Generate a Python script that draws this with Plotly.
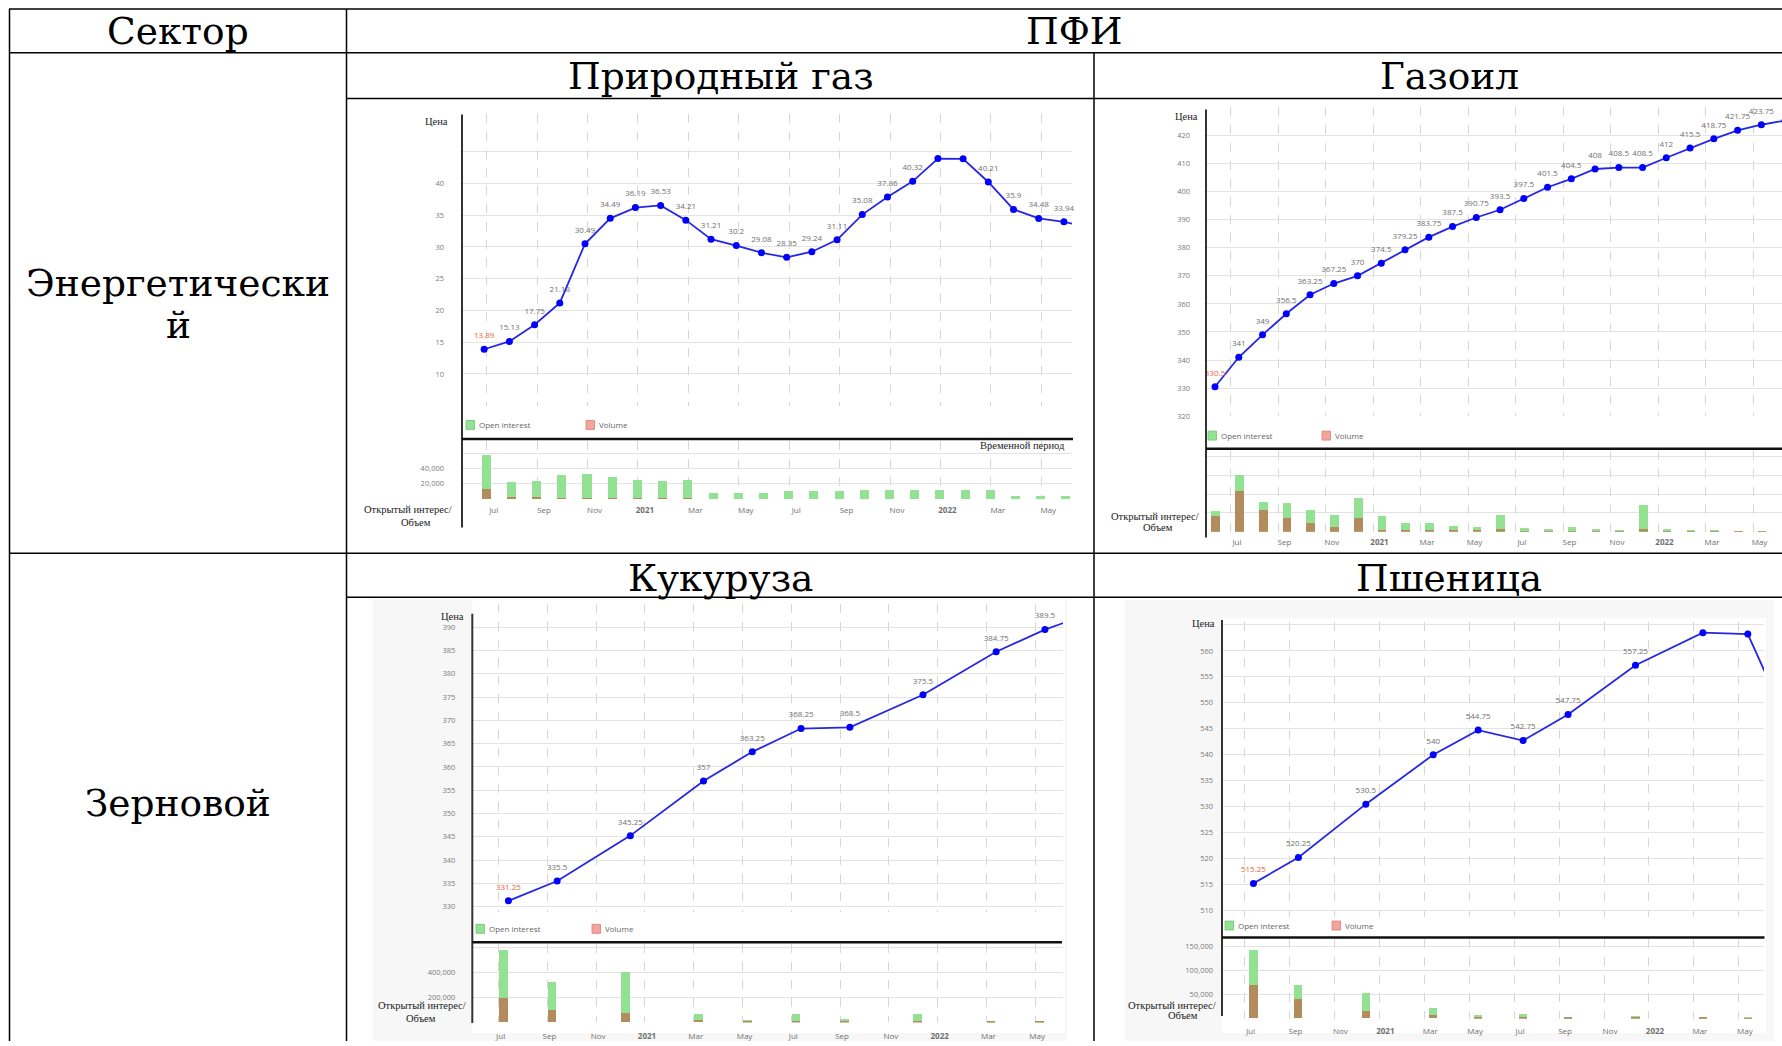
import plotly.graph_objects as go

W, H = 1782, 1046

# ---------------------------------------------------------------- data
# month index counted from July 2020
axis_months = [0, 2, 4, 6, 8, 10, 12, 14, 16, 18, 20, 22]
axis_labels = ["Jul", "Sep", "Nov", "<b>2021</b>", "Mar", "May",
               "Jul", "Sep", "Nov", "<b>2022</b>", "Mar", "May"]

# Природный газ
gas_months = list(range(0, 25))
gas_price = [13.89, 15.13, 17.75, 21.18, 30.49, 34.49, 36.19, 36.53, 34.21,
             31.21, 30.2, 29.08, 28.35, 29.24, 31.11, 35.08, 37.86, 40.32,
             43.9, 43.85, 40.21, 35.9, 34.48, 33.94, 33.1]
gas_unlabeled = [18, 19, 24]
gas_open_interest = [57400, 22600, 23900, 31300, 32600, 29100, 25400, 24200,
                     25000, 8600, 8600, 8600, 10400, 10400, 10400, 12500,
                     12500, 12500, 12500, 12500, 12500, 4300, 4300, 4300]
gas_volume = [13500, 2600, 2600, 1300, 1300, 1300, 1300, 1300, 1300, 150,
              150, 150, 150, 150, 150, 150, 150, 150, 150, 150, 150, 100,
              100, 100]

# Газоил
gasoil_months = list(range(-1, 24))
gasoil_price = [330.5, 341, 349, 356.5, 363.25, 367.25, 370, 374.5, 379.25,
                383.75, 387.5, 390.75, 393.5, 397.5, 401.5, 404.5, 408, 408.5,
                408.5, 412, 415.5, 418.75, 421.75, 423.75, 425.25]
gasoil_unlabeled = [24]
gasoil_open_interest = [10900, 30300, 15900, 15200, 11600, 8800, 18200, 8500,
                        4600, 4800, 3200, 2800, 9000, 2300, 1800, 2800, 1600,
                        1100, 14500, 1600, 500, 1100, 400, 400]
gasoil_volume = [8500, 21500, 11600, 7400, 4800, 2500, 7400, 1100, 700, 1100,
                 700, 500, 1400, 300, 300, 300, 200, 200, 1400, 300, 200, 200,
                 100, 100]

# Кукуруза (contract months Jul, Sep, Dec, Mar, May)
corn_months = [0, 2, 5, 8, 10, 12, 14, 17, 20, 22, 24]
corn_price = [331.25, 335.5, 345.25, 357, 363.25, 368.25, 368.5, 375.5,
              384.75, 389.5, 393.25]
corn_unlabeled = [10]
corn_open_interest = [578700, 320000, 400000, 66700, 18700, 66700, 24000,
                      66700, 5000, 2500]
corn_volume = [194700, 98700, 72000, 18700, 8000, 10700, 5300, 10700, 4500,
               2000]

# Пшеница (contract months Jul, Sep, Dec, Mar, May)
wheat_months = [0, 2, 5, 8, 10, 12, 14, 17, 20, 22, 24]
wheat_price = [515.25, 520.25, 530.5, 540, 544.75, 542.75, 547.75, 557.25,
               563.5, 563.25, 544]
wheat_unlabeled = [8, 9, 10]
wheat_open_interest = [142000, 70000, 51600, 20600, 6200, 8900, 1400, 4800,
                       1400, 1000]
wheat_volume = [70000, 41000, 15000, 6200, 2700, 2700, 700, 1400, 700, 500]

# ---------------------------------------------------------------- styling
GREEN = "#93e193"
BROWN = "#b28c5c"
VOL_SWATCH = "#f2a59d"
LINE_BLUE = "#2626e6"
DOT_BLUE = "#0000ff"
TICK_FONT = dict(family="Open Sans", size=7.5, color="#7a7a7a")
SERIF_SMALL = "Liberation Serif"
TABLE_FONT = "DejaVu Serif"
TABLE_SIZE = 37.5


def fx(px):
    return px / W


def fy(py):
    return 1 - py / H


shapes = []
annotations = []


def add_line(x0, y0, x1, y1, color="#000000", width=1.5):
    shapes.append(dict(type="line", xref="paper", yref="paper",
                       x0=fx(x0), y0=fy(y0), x1=fx(x1), y1=fy(y1),
                       line=dict(color=color, width=width), layer="above"))


def add_rect(x0, y0, x1, y1, fill, edge=None, layer="below"):
    shapes.append(dict(type="rect", xref="paper", yref="paper",
                       x0=fx(x0), y0=fy(y1), x1=fx(x1), y1=fy(y0),
                       fillcolor=fill,
                       line=dict(width=0.8 if edge else 0, color=edge or fill),
                       layer=layer))


def add_text(x, y, text, size, family, color="#000000", xanchor="center"):
    annotations.append(dict(x=fx(x), y=fy(y), xref="paper", yref="paper",
                            text=text, showarrow=False, xanchor=xanchor,
                            yanchor="middle", align="center",
                            font=dict(family=family, size=size, color=color)))


charts = [
    dict(months=gas_months, price=gas_price, unlabeled=gas_unlabeled,
         oi=gas_open_interest, vol=gas_volume,
         pt_off=-0.1, bar_off=0.08, xr=[-0.98, 23.22], left=462, right=1072,
         p_top=115, p_bot=407.7, p_range=[5, 50.84],
         p_ticks=[5, 10, 15, 20, 25, 30, 35, 40, 45],
         p_text=["", "10", "15", "20", "25", "30", "35", "40", ""],
         b_top=443, b_bot=501.5, b_range=[0, 75970],
         b_ticks=[0, 20000, 40000, 60000],
         b_text=["", "20,000", "40,000", ""],
         gap=17, lshift=7, lstand=5, clip=False,
         axis_line=(115, 530), thick_y=441, thick_right=1073,
         price_label=(436, 122), vol_label=((408, 512), (416, 525)),
         legend_y=427, legend_x=(466, 586), bg=None),
    dict(months=gasoil_months, price=gasoil_price, unlabeled=gasoil_unlabeled,
         oi=gasoil_open_interest, vol=gasoil_volume,
         pt_off=0.33, bar_off=0.03, xr=[-1.05, 23.2], left=1206, right=1782,
         p_top=107.7, p_bot=418.3, p_range=[320, 430],
         p_ticks=[320, 330, 340, 350, 360, 370, 380, 390, 400, 410, 420, 430],
         p_text=["320", "330", "340", "350", "360", "370", "380", "390",
                 "400", "410", "420", ""],
         b_top=453, b_bot=534.3, b_range=[0, 43020],
         b_ticks=[0, 10000, 20000, 30000, 40000],
         b_text=["", "", "", "", ""],
         gap=15, lshift=6, lstand=4, clip=True,
         axis_line=(110, 540), thick_y=451, thick_right=1782,
         price_label=(1186, 117), vol_label=((1155, 518.5), (1158, 530)),
         legend_y=437.7, legend_x=(1208, 1322), bg=None),
    dict(months=corn_months, price=corn_price, unlabeled=corn_unlabeled,
         oi=corn_open_interest, vol=corn_volume,
         pt_off=0.4, bar_off=-0.2, xr=[-1.08, 23.14], left=472.3, right=1063,
         p_top=606.7, p_bot=916.6, p_range=[328.8, 395.04],
         p_ticks=[330, 335, 340, 345, 350, 355, 360, 365, 370, 375, 380,
                  385, 390, 395],
         p_text=["330", "335", "340", "345", "350", "355", "360", "365",
                 "370", "375", "380", "385", "390", ""],
         b_top=948.7, b_bot=1027.3, b_range=[0, 628800],
         b_ticks=[0, 200000, 400000, 600000],
         b_text=["", "200,000", "400,000", ""],
         gap=16, lshift=2, lstand=8, clip=False,
         axis_line=(616.7, 1028), thick_y=946.7, thick_right=1062,
         price_label=(452, 619.3), vol_label=((421.5, 1010.5), (421, 1023.5)),
         legend_y=933.3, legend_x=(476, 592),
         bg=(373, 601.7, 1067, 1046)),
    dict(months=wheat_months, price=wheat_price, unlabeled=wheat_unlabeled,
         oi=wheat_open_interest, vol=wheat_volume,
         pt_off=0.4, bar_off=0.0, xr=[-1.0, 23.12], left=1222, right=1764,
         p_top=625, p_bot=921.3, p_range=[508.8, 565.56],
         p_ticks=[510, 515, 520, 525, 530, 535, 540, 545, 550, 555, 560, 565],
         p_text=["510", "515", "520", "525", "530", "535", "540", "545",
                 "550", "555", "560", ""],
         b_top=944, b_bot=1023.7, b_range=[0, 164440],
         b_ticks=[0, 50000, 100000, 150000],
         b_text=["", "50,000", "100,000", "150,000"],
         gap=8, lshift=6, lstand=6, clip=False,
         axis_line=(623, 1021), thick_y=942, thick_right=1764.5,
         price_label=(1203.7, 626.7), vol_label=((1172, 1010), (1183, 1020.5)),
         legend_y=930, legend_x=(1225, 1332),
         bg=(1125, 603, 1774, 1046)),
]


def ref(letter, n):
    return letter if n == 1 else f"{letter}{n}"


def key(letter, n):
    return f"{letter}axis" if n == 1 else f"{letter}axis{n}"


fig = go.Figure()
layout_axes = {}

for k, c in enumerate(charts):
    pn, bn = 2 * k + 1, 2 * k + 2
    xs = [m + c["pt_off"] for m in c["months"]]

    # price line
    fig.add_trace(go.Scatter(
        x=xs, y=c["price"], mode="lines+markers",
        line=dict(color=LINE_BLUE, width=1.8),
        marker=dict(color=DOT_BLUE, size=7),
        xaxis=ref("x", pn), yaxis=ref("y", pn), hoverinfo="skip"))

    # value labels above the points
    labels = ["" if i in c["unlabeled"] else f"{v:g}"
              for i, v in enumerate(c["price"])]
    label_colors = ["#ef5f3c" if i == 0 else "#6f6f6f"
                    for i in range(len(labels))]
    fig.add_trace(go.Scatter(
        x=xs, y=c["price"], mode="markers+text", text=labels,
        textposition="top center",
        textfont=dict(family="Open Sans", size=8, color=label_colors),
        marker=dict(size=13, color="rgba(0,0,0,0)"),
        cliponaxis=c["clip"],
        xaxis=ref("x", pn), yaxis=ref("y", pn), hoverinfo="skip"))

    # open interest with volume overlaid
    bx = [m + c["pt_off"] + c["bar_off"] for m in c["months"][:len(c["oi"])]]
    fig.add_trace(go.Bar(
        x=bx, y=c["oi"], width=0.36, name="Open interest",
        marker=dict(color=GREEN, line=dict(width=0)),
        xaxis=ref("x", bn), yaxis=ref("y", bn)))
    fig.add_trace(go.Bar(
        x=bx, y=c["vol"], width=0.36, name="Volume",
        marker=dict(color=BROWN, line=dict(width=0)),
        xaxis=ref("x", bn), yaxis=ref("y", bn)))

    xdom = [fx(c["left"]), fx(c["right"])]
    layout_axes[key("x", pn)] = dict(
        domain=xdom, range=c["xr"], anchor=ref("y", pn),
        tickmode="array", tickvals=axis_months, showticklabels=False,
        ticks="", showgrid=True, gridcolor="#d6d6d6", griddash="dash",
        gridwidth=1, zeroline=False, showline=False, fixedrange=True)
    layout_axes[key("y", pn)] = dict(
        domain=[fy(c["p_bot"]), fy(c["p_top"])], range=c["p_range"],
        anchor=ref("x", pn), tickmode="array", tickvals=c["p_ticks"],
        ticktext=c["p_text"], showgrid=True, gridcolor="#e3e3e3",
        gridwidth=1, zeroline=False, showline=False, ticks="",
        tickfont=TICK_FONT, ticklabelstandoff=c["gap"], fixedrange=True)
    layout_axes[key("x", bn)] = dict(
        domain=xdom, range=c["xr"], anchor=ref("y", bn),
        tickmode="array", tickvals=axis_months, ticktext=axis_labels,
        ticks="", showgrid=True, gridcolor="#d6d6d6", griddash="dash",
        gridwidth=1, zeroline=False, showline=False,
        tickfont=dict(family="Open Sans", size=8, color="#6f6f6f"),
        ticklabelshift=c["lshift"], ticklabelstandoff=c["lstand"],
        fixedrange=True)
    layout_axes[key("y", bn)] = dict(
        domain=[fy(c["b_bot"]), fy(c["b_top"])], range=c["b_range"],
        anchor=ref("x", bn), tickmode="array", tickvals=c["b_ticks"],
        ticktext=c["b_text"], showgrid=True, gridcolor="#e3e3e3",
        gridwidth=1, zeroline=False, showline=False, ticks="",
        tickfont=TICK_FONT, ticklabelstandoff=c["gap"], fixedrange=True)

    # chart frame pieces
    if c["bg"]:
        x0, y0, x1, y1 = c["bg"]
        add_rect(x0, y0, x1, y1, "#f7f7f7")
        add_rect(c["left"], c["p_top"] - 4, c["right"] + 2, y1 - 8, "#ffffff")
    add_line(c["left"], c["axis_line"][0], c["left"], c["axis_line"][1],
             color="#333333", width=2)
    add_line(c["left"], c["thick_y"], c["thick_right"], c["thick_y"],
             color="#111111", width=2.5)

    add_text(c["price_label"][0], c["price_label"][1], "Цена", 10.5,
             SERIF_SMALL, color="#222222")
    (l1x, l1y), (l2x, l2y) = c["vol_label"]
    add_text(l1x, l1y, "Открытый интерес/", 10.5, SERIF_SMALL, color="#222222")
    add_text(l2x, l2y, "Объем", 10.5, SERIF_SMALL, color="#222222")

    # legend row
    ly = c["legend_y"]
    gx, vx = c["legend_x"]
    add_rect(gx, ly - 4.5, gx + 8.5, ly + 4.5, GREEN, edge="#6fc66f",
             layer="above")
    add_text(gx + 11, ly, "Open interest", 8, "Open Sans", color="#666666",
             xanchor="left")
    add_rect(vx, ly - 4.5, vx + 8.5, ly + 4.5, VOL_SWATCH, edge="#e07b72",
             layer="above")
    add_text(vx + 11, ly, "Volume", 8, "Open Sans", color="#666666",
             xanchor="left")

add_text(1067, 448, "Временной период", 10.5, SERIF_SMALL, color="#222222",
         xanchor="right")

# ---------------------------------------------------------------- table
add_line(9, 9, 1782, 9)
add_line(9, 53, 1782, 53)
add_line(347, 99, 1782, 99)
add_line(9, 556, 1782, 556)
add_line(347, 600, 1782, 600)
add_line(9.5, 9, 9.5, 1046)
add_line(346.5, 9, 346.5, 1046)
add_line(1094, 53, 1094, 1046)

add_text(178, 31, "Сектор", TABLE_SIZE, TABLE_FONT)
add_text(1074, 31, "ПФИ", TABLE_SIZE, TABLE_FONT)
add_text(720.5, 76, "Природный газ", TABLE_SIZE, TABLE_FONT)
add_text(1449, 76, "Газоил", TABLE_SIZE, TABLE_FONT)
add_text(178, 284, "Энергетически", TABLE_SIZE, TABLE_FONT)
add_text(178, 327, "й", TABLE_SIZE, TABLE_FONT)
add_text(720.5, 581, "Кукуруза", TABLE_SIZE, TABLE_FONT)
add_text(1449, 581, "Пшеница", TABLE_SIZE, TABLE_FONT)
add_text(178, 807, "Зерновой", TABLE_SIZE, TABLE_FONT)

fig.update_layout(
    width=W, height=H, autosize=False,
    margin=dict(l=0, r=0, t=0, b=0, pad=0),
    paper_bgcolor="#ffffff", plot_bgcolor="#ffffff",
    showlegend=False, barmode="overlay", bargap=0,
    shapes=shapes, annotations=annotations,
    **layout_axes)

fig.write_html("out.html")
